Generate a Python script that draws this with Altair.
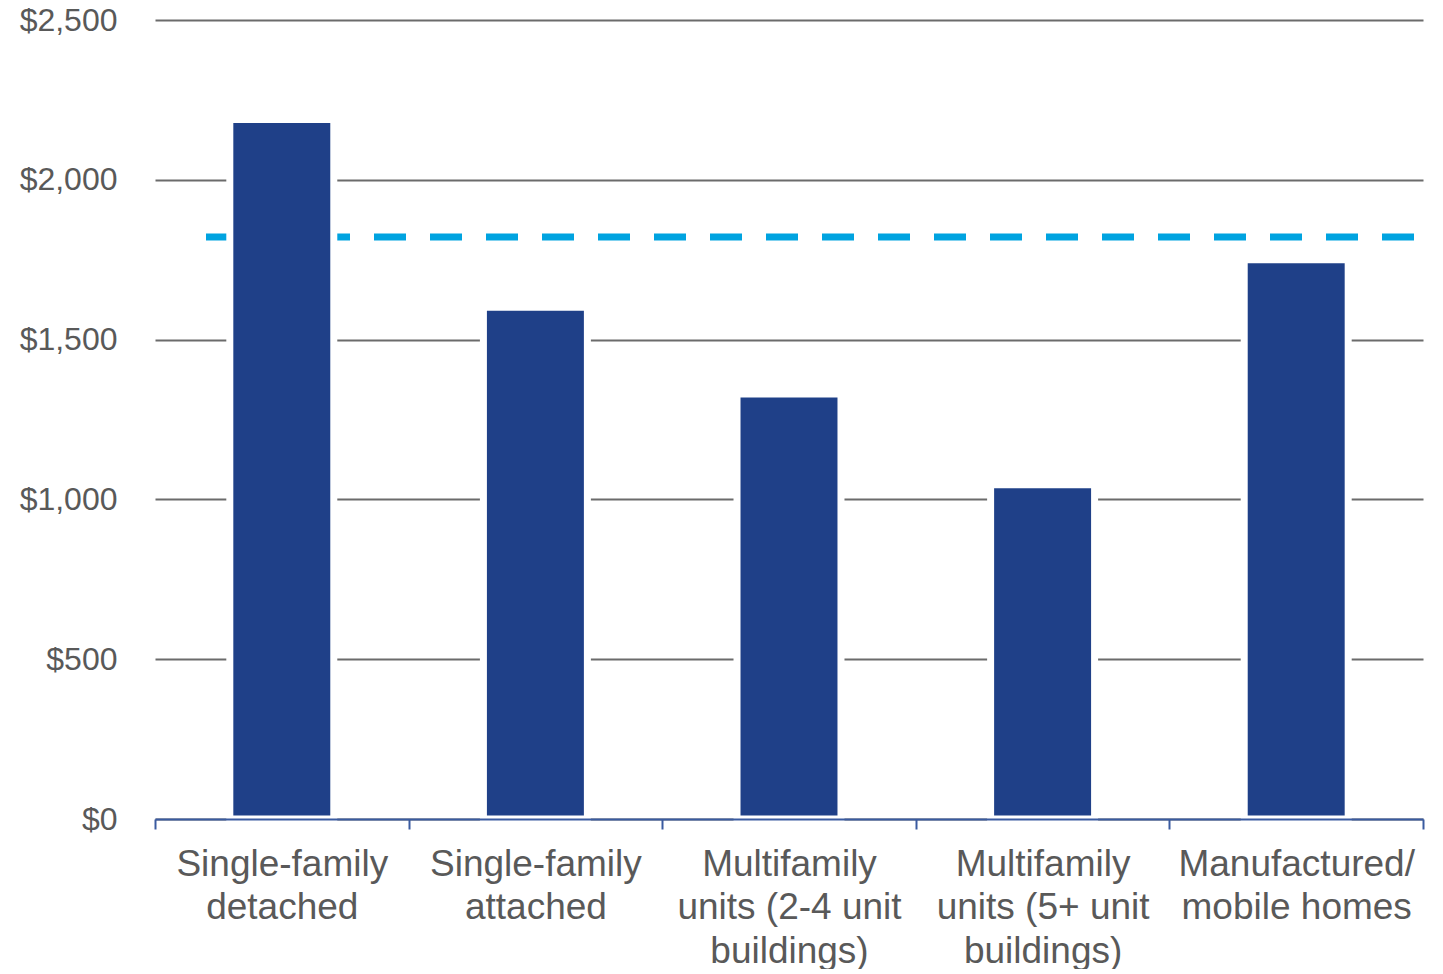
import altair as alt
import pandas as pd

categories = [
    "Single-family|detached",
    "Single-family|attached",
    "Multifamily|units (2-4 unit|buildings)",
    "Multifamily|units (5+ unit|buildings)",
    "Manufactured/|mobile homes",
]
values = [2189, 1601, 1330, 1046, 1750]
average = 1821
y_ticks = [0, 500, 1000, 1500, 2000, 2500]

df = pd.DataFrame({"cat": categories, "val": values})
avg_df = pd.DataFrame({"avg": [average]})

W, H = 1268, 799
FONT = "Liberation Sans"
GRAY = "#595959"

x_enc = alt.X(
    "cat:N",
    sort=categories,
    title=None,
    scale=alt.Scale(paddingInner=0, paddingOuter=0),
    axis=alt.Axis(
        labelExpr="split(datum.label, '|')",
        labelAngle=0,
        labelFont=FONT,
        labelFontSize=37,
        labelLineHeight=43.5,
        labelColor=GRAY,
        labelPadding=17,
        labelLimit=500,
        domainColor="#3A5BA0",
        domainWidth=2,
        tickColor="#3A5BA0",
        tickWidth=2,
        tickSize=10,
        tickBand="extent",
        grid=False,
        zindex=1,
    ),
)

y_scale = alt.Scale(domain=[0, 2500], nice=False)
y_axis = alt.Axis(
    values=y_ticks,
    format="$,.0f",
    title=None,
    labelFont=FONT,
    labelFontSize=32,
    labelColor=GRAY,
    labelPadding=38,
    ticks=False,
    domain=False,
    grid=True,
    gridColor="#6b6b6b",
    gridWidth=2,
    zindex=0,
)

avg_line = alt.Chart(avg_df).mark_rule(
    color="#00A3E0", strokeWidth=7, strokeDash=[32, 24]
).encode(
    y=alt.Y("avg:Q", scale=y_scale, axis=y_axis),
    x=alt.value(51),
    x2=alt.value(1259),
)

bars = alt.Chart(df).mark_bar(
    color="#1F4088", stroke="white", strokeWidth=7,
    width=alt.RelativeBandSize(0.41),
).encode(
    x=x_enc,
    y=alt.Y("val:Q", scale=y_scale, axis=y_axis),
)

chart = alt.layer(avg_line, bars).properties(
    width=W,
    height=H,
    autosize=alt.AutoSizeParams(type="none"),
    padding={"left": 147, "top": 12, "right": 12, "bottom": 150},
    view=alt.ViewBackground(stroke="transparent", strokeWidth=0),
).configure_view(strokeWidth=0, stroke="transparent").configure(background="white")

chart.save("out.html", embed_options={"renderer": "svg", "actions": False})
